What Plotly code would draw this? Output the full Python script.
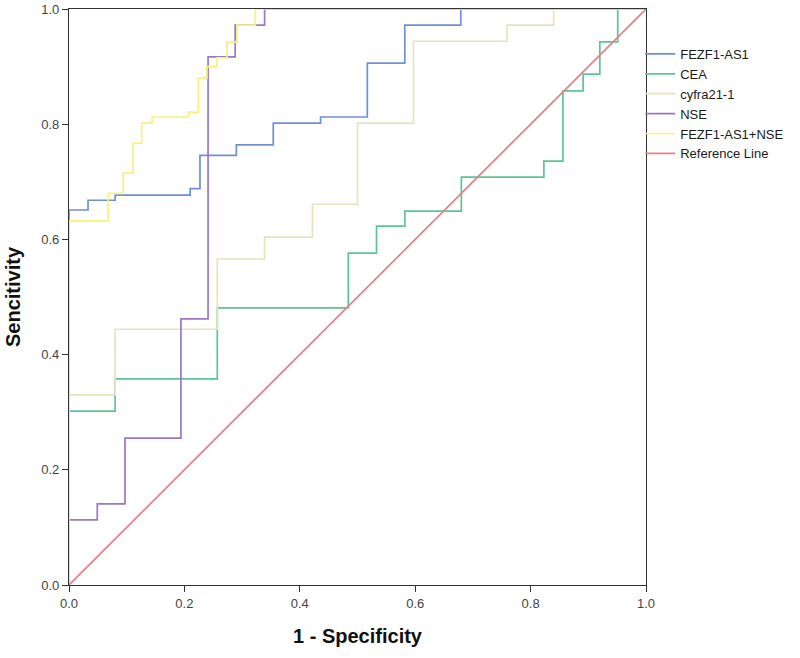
import plotly.graph_objects as go

# ROC step curves (1 - specificity, sensitivity), corner points for 'hv' steps
fezf1_fpr = [0, 0, 0.033, 0.080, 0.210, 0.227, 0.290, 0.354, 0.436, 0.517, 0.582, 0.679, 1.0]
fezf1_tpr = [0, 0.651, 0.668, 0.677, 0.688, 0.746, 0.764, 0.802, 0.8125, 0.906, 0.972, 1.0, 1.0]

cea_fpr = [0, 0, 0.080, 0.257, 0.484, 0.533, 0.582, 0.680, 0.823, 0.856, 0.891, 0.920, 0.951, 1.0]
cea_tpr = [0, 0.302, 0.358, 0.481, 0.576, 0.623, 0.649, 0.708, 0.736, 0.858, 0.887, 0.943, 1.0, 1.0]

cyfra_fpr = [0, 0, 0.080, 0.257, 0.339, 0.422, 0.500, 0.597, 0.759, 0.840, 1.0]
cyfra_tpr = [0, 0.330, 0.444, 0.566, 0.604, 0.661, 0.802, 0.944, 0.972, 1.0, 1.0]

nse_fpr = [0, 0, 0.049, 0.097, 0.194, 0.241, 0.288, 0.339, 1.0]
nse_tpr = [0, 0.113, 0.141, 0.255, 0.462, 0.917, 0.972, 1.0, 1.0]

combo_fpr = [0, 0, 0.068, 0.094, 0.111, 0.126, 0.144, 0.207, 0.224, 0.239, 0.256, 0.274, 0.291, 0.323, 1.0]
combo_tpr = [0, 0.632, 0.680, 0.715, 0.767, 0.802, 0.8125, 0.821, 0.880, 0.900, 0.915, 0.943, 0.972, 1.0, 1.0]

ref_x = [0, 1]
ref_y = [0, 1]

tick_vals = [0, 0.2, 0.4, 0.6, 0.8, 1.0]
tick_text = ["0.0", "0.2", "0.4", "0.6", "0.8", "1.0"]

names = ["FEZF1-AS1", "CEA", "cyfra21-1", "NSE", "FEZF1-AS1+NSE", "Reference Line"]
colors = ["#6F8FD6", "#5EC496", "#E4E4BE", "#9A78C2", "#F6F27C", "#EC7F86"]

fig = go.Figure()
series = [(fezf1_fpr, fezf1_tpr), (cea_fpr, cea_tpr), (cyfra_fpr, cyfra_tpr),
          (nse_fpr, nse_tpr), (combo_fpr, combo_tpr)]
for (xs, ys), n, c in zip(series, names[:5], colors[:5]):
    fig.add_trace(go.Scatter(x=xs, y=ys, mode="lines", name=n,
                             line=dict(color=c, width=1.7, shape="hv")))
fig.add_trace(go.Scatter(x=ref_x, y=ref_y, mode="lines", name=names[5],
                         line=dict(color=colors[5], width=1.7)))

axis_common = dict(
    range=[0, 1], tickvals=tick_vals, ticktext=tick_text,
    showgrid=False, zeroline=False, showline=True, linecolor="#333333",
    linewidth=1.3, mirror=True, ticks="outside", ticklen=6, tickcolor="#333333",
    tickwidth=1.3, automargin=False,
    tickfont=dict(family="Liberation Sans, Arial", size=13, color="#444444"),
)

fig.update_layout(
    width=800, height=658,
    margin=dict(l=69, r=154, t=9, b=73),
    paper_bgcolor="white", plot_bgcolor="white",
    xaxis=dict(**axis_common,
               title=dict(text="<b>1 - Specificity</b>", standoff=19,
                          font=dict(family="Liberation Sans, Arial", size=20, color="#111111"))),
    yaxis=dict(**axis_common,
               title=dict(text="<b>Sencitivity</b>", standoff=15,
                          font=dict(family="Liberation Sans, Arial", size=20, color="#111111"))),
    legend=dict(x=0.99, y=0.948, xanchor="left", yanchor="top",
                font=dict(family="Liberation Sans, Arial", size=13, color="#1a1a1a"),
                bgcolor="rgba(0,0,0,0)", tracegroupgap=0),
    showlegend=True,
)

# remove the browser's default 8px page margin so the figure fills the window
fig.write_html("out.html", config={"displayModeBar": False},
               post_script="document.body.style.margin='0';")
